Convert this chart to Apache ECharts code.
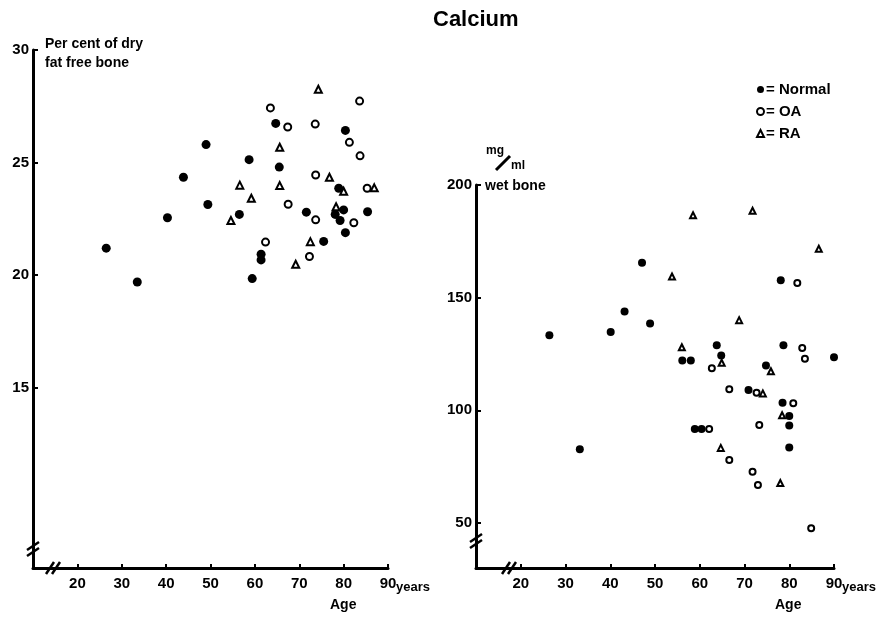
<!DOCTYPE html>
<html>
<head>
<meta charset="utf-8">
<title>Calcium</title>
<script src="https://cdn.jsdelivr.net/npm/echarts@6/dist/echarts.min.js"></script>
<style>
    html, body { margin: 0; padding: 0; background: #fff; }
    #chart { width: 892px; height: 620px; }
</style>
</head>
<body>
<div id="chart"></div>
<script>
    // tick labels
    var ageTicks = [20, 30, 40, 50, 60, 70, 80, 90];
    var dryTicks = [15, 20, 25, 30];
    var wetTicks = [50, 100, 150, 200];

    // left: per cent of dry fat free bone, [age, value]
    var dryNormal = [
        [26.5, 21.2], [33.5, 19.7], [40.3, 22.55], [43.9, 24.35], [49.0, 25.8], [49.4, 23.14],
        [56.5, 22.7], [58.7, 25.13], [59.4, 19.85], [61.4, 20.93], [61.4, 20.68], [64.7, 26.74],
        [65.5, 24.8], [71.6, 22.8], [75.5, 21.5], [78.9, 23.86], [78.1, 22.7], [80.0, 22.9],
        [79.2, 22.43], [80.4, 26.43], [80.4, 21.89], [85.4, 22.82]
    ];
    var dryOA = [
        [63.5, 27.43], [67.4, 26.58], [73.6, 26.71], [83.6, 27.73], [81.3, 25.9], [83.7, 25.3],
        [73.7, 24.45], [85.3, 23.86], [67.5, 23.15], [73.7, 22.46], [82.3, 22.33], [62.4, 21.47],
        [72.3, 20.83], [91.6, 19.8]
    ];
    var dryRA = [
        [74.3, 28.26], [65.6, 25.68], [76.8, 24.35], [56.6, 24.0], [65.6, 23.98], [59.2, 23.42],
        [54.6, 22.43], [80.0, 23.73], [86.9, 23.88], [78.3, 23.04], [72.5, 21.49], [69.2, 20.49]
    ];

    // right: mg/ml wet bone, [age, value]
    var wetNormal = [
        [47.1, 165.5], [78.1, 157.7], [43.2, 143.9], [48.9, 138.5], [40.1, 134.7], [26.4, 133.3],
        [63.8, 128.9], [78.7, 128.9], [90.0, 123.5], [56.1, 122.1], [58.0, 122.1], [64.8, 124.3],
        [74.8, 119.9], [70.9, 109.0], [78.5, 103.4], [80.0, 97.5], [80.0, 93.2], [58.9, 91.7],
        [60.4, 91.7], [33.2, 82.7], [80.0, 83.5]
    ];
    var wetOA = [
        [81.8, 156.5], [82.9, 127.7], [83.5, 122.9], [62.7, 118.7], [66.6, 109.3], [72.7, 107.8],
        [80.9, 103.1], [91.1, 104.4], [73.3, 93.5], [62.1, 91.7], [66.6, 77.9], [71.8, 72.7],
        [73.0, 66.8], [84.9, 47.6]
    ];
    var wetRA = [
        [58.5, 186.6], [71.8, 188.6], [86.6, 171.7], [53.8, 159.4], [68.8, 140.0], [56.0, 128.0],
        [64.9, 121.1], [75.9, 117.3], [74.1, 107.5], [78.4, 97.8], [64.7, 83.3], [78.0, 67.7]
    ];

    var FONT = 'Liberation Sans';
    var myChart = echarts.init(document.getElementById('chart'));

    function xAxisOf(grid) {
        return {
            gridIndex: grid, type: 'value', min: 10, max: 90,
            splitLine: { show: false },
            axisLine: { lineStyle: { color: '#000', width: 3 } },
            axisTick: { inside: true, length: 4, lineStyle: { color: '#000', width: 2 }, customValues: ageTicks },
            axisLabel: { customValues: ageTicks, color: '#000', fontFamily: FONT, fontWeight: 'bold', fontSize: 15, margin: 8 },
            name: 'years', nameLocation: 'end', nameGap: 8, nameMoveOverlap: false,
            nameTextStyle: { color: '#000', fontFamily: FONT, fontWeight: 'bold', fontSize: 13, verticalAlign: 'top', padding: [13, 0, 0, 0] }
        };
    }

    function yAxisOf(grid, min, max, ticks) {
        return {
            gridIndex: grid, type: 'value', min: min, max: max,
            splitLine: { show: false },
            axisLine: { lineStyle: { color: '#000', width: 3 } },
            axisTick: { inside: true, length: 5, lineStyle: { color: '#000', width: 2 }, customValues: ticks },
            axisLabel: { customValues: ticks, color: '#000', fontFamily: FONT, fontWeight: 'bold', fontSize: 15, margin: 4 }
        };
    }

    var filled = { color: '#000', opacity: 1 };
    var open = { color: '#fff', borderColor: '#000', borderWidth: 2, opacity: 1 };

    function scatter(name, data, grid, symbol, size, style) {
        return {
            name: name, type: 'scatter', xAxisIndex: grid, yAxisIndex: grid,
            symbol: symbol, symbolSize: size, itemStyle: style, data: data
        };
    }

    // axis break marks
    function breakMark(x, y, vertical) {
        var lines = [];
        var d = vertical ? [[-6, 4, 6, -4], [-6, 10, 6, 2]] : [[-6, 6, 2, -6], [0, 6, 8, -6]];
        lines.push({ type: 'rect', shape: vertical ? { x: x - 4, y: y + 1, width: 8, height: 5 } : { x: x - 2, y: y - 4, width: 5, height: 8 }, style: { fill: '#fff' } });
        d.forEach(function (s) {
            lines.push({ type: 'line', shape: { x1: x + s[0], y1: y + s[1], x2: x + s[2], y2: y + s[3] }, style: { stroke: '#000', lineWidth: 2.5 } });
        });
        return lines;
    }

    var textStyle = { fill: '#000', font: 'bold 14px "Liberation Sans"' };

    var option = {
        animation: false,
        backgroundColor: '#fff',
        title: {
            text: 'Calcium', left: 428, top: 4,
            textStyle: { color: '#000', fontFamily: FONT, fontWeight: 'bold', fontSize: 22 }
        },
        legend: {
            orient: 'vertical', left: 751, top: 77,
            itemWidth: 7, itemHeight: 7, itemGap: 7,
            data: ['Normal', 'OA', 'RA'],
            formatter: '= {name}',
            textStyle: { color: '#000', fontFamily: FONT, fontWeight: 'bold', fontSize: 15, padding: [0, 0, 0, -3] }
        },
        grid: [
            { left: 33, top: 50, width: 355, height: 518 },
            { left: 476, top: 185, width: 358, height: 383 }
        ],
        xAxis: [xAxisOf(0), xAxisOf(1)],
        yAxis: [yAxisOf(0, 7, 30, dryTicks), yAxisOf(1, 30, 200, wetTicks)],
        series: [
            scatter('Normal', dryNormal, 0, 'circle', 9, filled),
            scatter('OA', dryOA, 0, 'circle', 7, open),
            scatter('RA', dryRA, 0, 'triangle', 7, open),
            scatter('Normal', wetNormal, 1, 'circle', 8, filled),
            scatter('OA', wetOA, 1, 'circle', 6, open),
            scatter('RA', wetRA, 1, 'triangle', 6, open)
        ],
        graphic: [
            { type: 'text', left: 45, top: 35, style: Object.assign({ text: 'Per cent of dry\nfat free bone', lineHeight: 19 }, textStyle) },
            { type: 'text', left: 486, top: 145, style: { text: 'mg', fill: '#000', font: 'bold 12px "Liberation Sans"' } },
            { type: 'line', shape: { x1: 496, y1: 170, x2: 510, y2: 156 }, style: { stroke: '#000', lineWidth: 3 } },
            { type: 'text', left: 511, top: 160, style: { text: 'ml', fill: '#000', font: 'bold 12px "Liberation Sans"' } },
            { type: 'text', left: 485, top: 179, style: Object.assign({ text: 'wet bone' }, textStyle) },
            { type: 'text', left: 330, top: 598, style: Object.assign({ text: 'Age' }, textStyle) },
            { type: 'text', left: 775, top: 598, style: Object.assign({ text: 'Age' }, textStyle) }
        ].concat(breakMark(33, 546, true), breakMark(52, 568, false), breakMark(476, 538, true), breakMark(508, 568, false))
    };

    myChart.setOption(option);
</script>
</body>
</html>
